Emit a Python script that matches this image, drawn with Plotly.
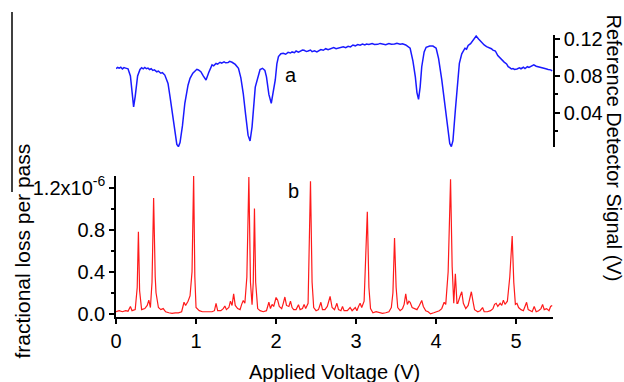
import plotly.graph_objects as go

# Bottom panel (b): fractional loss per pass, in units of 1e-6
volt_b = [0.00, 0.04, 0.08, 0.12, 0.15, 0.18, 0.20, 0.24, 0.265, 0.28, 0.295, 0.32, 0.36, 0.39, 0.41, 0.43,
          0.45, 0.47, 0.49, 0.50, 0.53, 0.56, 0.59, 0.62, 0.66, 0.70, 0.74, 0.78, 0.82, 0.85, 0.87, 0.90,
          0.925, 0.95, 0.97, 0.985, 1.00, 1.04, 1.08, 1.12, 1.16, 1.20, 1.23, 1.25, 1.27, 1.31, 1.34, 1.36,
          1.38, 1.41, 1.43, 1.45, 1.47, 1.49, 1.52, 1.55, 1.57, 1.59, 1.61, 1.635, 1.66, 1.68, 1.70, 1.715,
          1.73, 1.745, 1.77, 1.80, 1.84, 1.88, 1.91, 1.93, 1.95, 1.97, 2.00, 2.02, 2.04, 2.07, 2.09, 2.11,
          2.13, 2.16, 2.18, 2.20, 2.22, 2.25, 2.28, 2.30, 2.33, 2.35, 2.37, 2.40, 2.43, 2.45, 2.47, 2.50,
          2.53, 2.56, 2.58, 2.61, 2.64, 2.675, 2.70, 2.73, 2.76, 2.78, 2.81, 2.83, 2.85, 2.89, 2.925, 2.95,
          2.99, 3.01, 3.03, 3.05, 3.07, 3.10, 3.14, 3.16, 3.18, 3.21, 3.25, 3.29, 3.33, 3.37, 3.41, 3.44,
          3.46, 3.48, 3.50, 3.52, 3.55, 3.58, 3.60, 3.62, 3.64, 3.66, 3.675, 3.70, 3.73, 3.76, 3.79, 3.82,
          3.84, 3.87, 3.90, 3.93, 3.97, 4.00, 4.04, 4.07, 4.10, 4.12, 4.15, 4.18, 4.20, 4.22, 4.24, 4.26,
          4.27, 4.30, 4.32, 4.34, 4.37, 4.40, 4.42, 4.44, 4.46, 4.48, 4.52, 4.55, 4.58, 4.60, 4.64, 4.68,
          4.71, 4.73, 4.75, 4.77, 4.80, 4.82, 4.84, 4.86, 4.89, 4.92, 4.95, 4.97, 4.99, 5.01, 5.03, 5.06,
          5.09, 5.13, 5.15, 5.18, 5.20, 5.225, 5.25, 5.28, 5.31, 5.33, 5.35, 5.38, 5.41, 5.43, 5.45]
loss_b = [0.02, 0.03, 0.02, 0.03, 0.025, 0.07, 0.03, 0.04, 0.25, 0.78, 0.22, 0.04, 0.05, 0.08, 0.13, 0.06,
          0.30, 1.10, 0.35, 0.20, 0.06, 0.04, 0.05, 0.02, 0.01, 0.005, 0.01, 0.01, 0.02, 0.11, 0.08, 0.12,
          0.17, 0.40, 1.31, 0.35, 0.06, 0.03, 0.02, 0.02, 0.015, 0.02, 0.03, 0.10, 0.03, 0.03, 0.05, 0.075,
          0.04, 0.06, 0.12, 0.08, 0.19, 0.08, 0.05, 0.04, 0.09, 0.127, 0.10, 0.35, 1.30, 0.30, 0.086, 0.30,
          1.00, 0.30, 0.05, 0.03, 0.02, 0.03, 0.11, 0.05, 0.09, 0.07, 0.155, 0.13, 0.07, 0.05, 0.10, 0.16,
          0.08, 0.07, 0.12, 0.06, 0.04, 0.04, 0.087, 0.04, 0.05, 0.09, 0.05, 0.10, 1.26, 0.30, 0.06, 0.03,
          0.04, 0.11, 0.04, 0.04, 0.07, 0.165, 0.06, 0.04, 0.10, 0.04, 0.03, 0.07, 0.03, 0.03, 0.06, 0.03,
          0.06, 0.03, 0.07, 0.10, 0.06, 0.12, 0.97, 0.25, 0.05, 0.01, 0.02, 0.01, 0.005, 0.01, 0.02, 0.06,
          0.20, 0.72, 0.25, 0.06, 0.03, 0.05, 0.09, 0.19, 0.09, 0.12, 0.11, 0.06, 0.05, 0.04, 0.08, 0.127,
          0.07, 0.03, 0.02, 0.00, 0.01, 0.02, 0.03, 0.05, 0.11, 0.09, 0.40, 1.28, 0.45, 0.10, 0.38, 0.10,
          0.10, 0.17, 0.21, 0.10, 0.05, 0.08, 0.15, 0.21, 0.12, 0.04, 0.02, 0.03, 0.06, 0.02, 0.02, 0.03,
          0.05, 0.09, 0.10, 0.07, 0.10, 0.08, 0.13, 0.09, 0.12, 0.35, 0.74, 0.30, 0.09, 0.10, 0.06, 0.04,
          0.03, 0.11, 0.04, 0.03, 0.02, 0.07, 0.02, 0.03, 0.05, 0.09, 0.04, 0.05, 0.03, 0.07, 0.08]

# Top panel (a): reference detector signal (V)
volt_a = [0.00, 0.02, 0.04, 0.06, 0.08, 0.10, 0.12, 0.15, 0.18, 0.20, 0.22, 0.24, 0.27, 0.30, 0.32, 0.34,
          0.36, 0.38, 0.40, 0.42, 0.44, 0.46, 0.48, 0.51, 0.53, 0.56, 0.58, 0.61, 0.65, 0.675, 0.71, 0.74,
          0.76, 0.78, 0.80, 0.83, 0.86, 0.90, 0.925, 0.96, 0.99, 1.01, 1.03, 1.06, 1.09, 1.125, 1.16, 1.20,
          1.22, 1.25, 1.27, 1.30, 1.32, 1.35, 1.37, 1.40, 1.42, 1.45, 1.49, 1.53, 1.56, 1.59, 1.62, 1.65,
          1.675, 1.70, 1.74, 1.78, 1.80, 1.83, 1.86, 1.88, 1.91, 1.94, 1.97, 1.99, 2.01, 2.03, 2.06, 2.09,
          2.12, 2.15, 2.18, 2.20, 2.23, 2.25, 2.28, 2.30, 2.33, 2.35, 2.38, 2.40, 2.43, 2.45, 2.48, 2.51,
          2.54, 2.56, 2.59, 2.62, 2.65, 2.67, 2.70, 2.72, 2.75, 2.78, 2.81, 2.84, 2.87, 2.90, 2.93, 2.96,
          2.99, 3.02, 3.05, 3.08, 3.11, 3.13, 3.16, 3.20, 3.23, 3.27, 3.30, 3.34, 3.37, 3.41, 3.44, 3.48,
          3.51, 3.55, 3.58, 3.62, 3.675, 3.71, 3.74, 3.76, 3.78, 3.80, 3.82, 3.85, 3.875, 3.92, 3.96, 4.00,
          4.03, 4.07, 4.11, 4.15, 4.17, 4.19, 4.21, 4.24, 4.27, 4.29, 4.32, 4.34, 4.36, 4.38, 4.40, 4.43,
          4.45, 4.48, 4.50, 4.53, 4.56, 4.58, 4.60, 4.63, 4.65, 4.67, 4.69, 4.71, 4.74, 4.77, 4.81, 4.85,
          4.88, 4.90, 4.92, 4.94, 4.96, 4.98, 5.01, 5.04, 5.06, 5.09, 5.11, 5.14, 5.16, 5.19, 5.22, 5.25,
          5.28, 5.31, 5.34, 5.37, 5.40, 5.43, 5.45]
signal_a = [0.0880, 0.0892, 0.0884, 0.0894, 0.0876, 0.0890, 0.0885, 0.0878, 0.0800, 0.0600, 0.0465, 0.0580,
            0.0800, 0.0870, 0.0890, 0.0878, 0.0892, 0.0878, 0.0885, 0.0870, 0.0878, 0.0860, 0.0866, 0.0845,
            0.0852, 0.0830, 0.0836, 0.0810, 0.0720, 0.0576, 0.0350, 0.0140, 0.0060, 0.0036, 0.0080, 0.0260,
            0.0505, 0.0700, 0.0775, 0.0830, 0.0857, 0.0872, 0.0865, 0.0846, 0.0800, 0.0757, 0.0840, 0.0920,
            0.0910, 0.0935, 0.0928, 0.0948, 0.0938, 0.0952, 0.0942, 0.0945, 0.0958, 0.0948, 0.0925, 0.0883,
            0.0780, 0.0610, 0.0380, 0.0160, 0.0097, 0.0250, 0.0680, 0.0830, 0.0870, 0.0883, 0.0860, 0.0790,
            0.0600, 0.0505, 0.0640, 0.0757, 0.0930, 0.1009, 0.1040, 0.1045, 0.1035, 0.1055, 0.1048, 0.1060,
            0.1052, 0.1070, 0.1058, 0.1066, 0.1080, 0.1078, 0.1064, 0.1070, 0.1080, 0.1062, 0.1072, 0.1060,
            0.1072, 0.1085, 0.1078, 0.1095, 0.1084, 0.1090, 0.1102, 0.1106, 0.1094, 0.1100, 0.1110, 0.1115,
            0.1106, 0.1120, 0.1114, 0.1135, 0.1126, 0.1140, 0.1132, 0.1145, 0.1136, 0.1146, 0.1140, 0.1150,
            0.1140, 0.1142, 0.1152, 0.1146, 0.1138, 0.1150, 0.1142, 0.1145, 0.1154, 0.1143, 0.1148, 0.1135,
            0.1100, 0.0960, 0.0790, 0.0620, 0.0548, 0.0680, 0.0900, 0.1060, 0.1110, 0.1124, 0.1124, 0.1100,
            0.0990, 0.0760, 0.0468, 0.0180, 0.0070, 0.0036, 0.0100, 0.0432, 0.0780, 0.0937, 0.1040, 0.1080,
            0.1100, 0.1090, 0.1130, 0.1150, 0.1170, 0.1200, 0.1232, 0.1200, 0.1170, 0.1160, 0.1135, 0.1117,
            0.1110, 0.1100, 0.1095, 0.1080, 0.1070, 0.1020, 0.0980, 0.0950, 0.0930, 0.0900, 0.0890, 0.0875,
            0.0880, 0.0870, 0.0876, 0.0888, 0.0878, 0.0894, 0.0880, 0.0900, 0.0892, 0.0910, 0.0920, 0.0905,
            0.0900, 0.0890, 0.0885, 0.0878, 0.0870, 0.0866, 0.0854]

x_ticks = [0, 1, 2, 3, 4, 5]
loss_tickvals = [0.0, 0.4, 0.8, 1.2]
loss_ticktext = ["0.0", "0.4", "0.8", "1.2x10<sup>-6</sup>"]
sig_tickvals = [0.04, 0.08, 0.12]
sig_ticktext = ["0.04", "0.08", "0.12"]

FONT = "Liberation Sans, Arial, sans-serif"
W, H = 624, 382
ML, MR, MT, MB = 116, 71, 35, 65
PW, PH = W - ML - MR, H - MT - MB


def px(xp):
    return (xp - ML) / PW


def py(yp):
    return (H - MB - yp) / PH


fig = go.Figure()
fig.add_trace(go.Scatter(x=volt_b, y=loss_b, mode="lines", xaxis="x", yaxis="y",
                         line=dict(color="#ff1a1a", width=1.2), showlegend=False))
fig.add_trace(go.Scatter(x=volt_a, y=signal_a, mode="lines", xaxis="x2", yaxis="y2",
                         line=dict(color="#1a1aff", width=1.5), showlegend=False))

axis_common = dict(showgrid=False, zeroline=False, showline=True, linecolor="black", linewidth=1.5,
                   ticks="outside", ticklen=5, tickwidth=1.5, tickcolor="black",
                   tickfont=dict(family=FONT, size=20, color="black"))

fig.update_layout(
    width=W, height=H, autosize=False,
    margin=dict(l=ML, r=MR, t=MT, b=MB),
    paper_bgcolor="white", plot_bgcolor="white",
    xaxis=dict(domain=[0, 1], range=[0, 5.46], anchor="y", tickvals=x_ticks, **axis_common),
    xaxis2=dict(domain=[0, 1], range=[0, 5.46], anchor="y2", visible=False),
    yaxis=dict(domain=[0, 0.5], range=[-0.03, 1.31], anchor="x", tickvals=loss_tickvals,
               ticktext=loss_ticktext,
               minor=dict(tickvals=[0.2, 0.6, 1.0], ticklen=3, ticks="outside", tickwidth=1.5,
                          tickcolor="black"),
               **axis_common),
    yaxis2=dict(domain=[py(147), 1], range=[0.0032, 0.1243], anchor="x2", side="right",
                tickvals=sig_tickvals, ticktext=sig_ticktext,
                minor=dict(tickvals=[0.02, 0.06, 0.10], ticklen=3, ticks="outside", tickwidth=1.5,
                           tickcolor="black"),
                **axis_common),
    font=dict(family=FONT, color="black"),
)

ann_font = dict(family=FONT, size=20, color="black")
fig.add_annotation(text="Applied Voltage (V)", xref="paper", yref="paper", x=0.5, y=py(372),
                   xanchor="center", yanchor="middle", showarrow=False, font=ann_font)
fig.add_annotation(text="Reference Detector Signal (V)", xref="paper", yref="paper", x=px(614), y=py(147.5),
                   xanchor="center", yanchor="middle", showarrow=False, textangle=90, font=ann_font)
fig.add_annotation(text="fractional loss per pass", xref="paper", yref="paper", x=px(22), y=py(251.5),
                   xanchor="center", yanchor="middle", showarrow=False, textangle=-90,
                   font=dict(family=FONT, size=21, color="black"))
fig.add_annotation(text="a", xref="paper", yref="paper", x=px(291), y=py(75),
                   xanchor="center", yanchor="middle", showarrow=False, font=ann_font)
fig.add_annotation(text="b", xref="paper", yref="paper", x=px(293), y=py(191),
                   xanchor="center", yanchor="middle", showarrow=False, font=ann_font)
fig.add_shape(type="line", xref="paper", yref="paper", x0=px(12), x1=px(12), y0=py(192), y1=py(12),
              line=dict(color="black", width=1.5))

fig.write_html("out.html")
